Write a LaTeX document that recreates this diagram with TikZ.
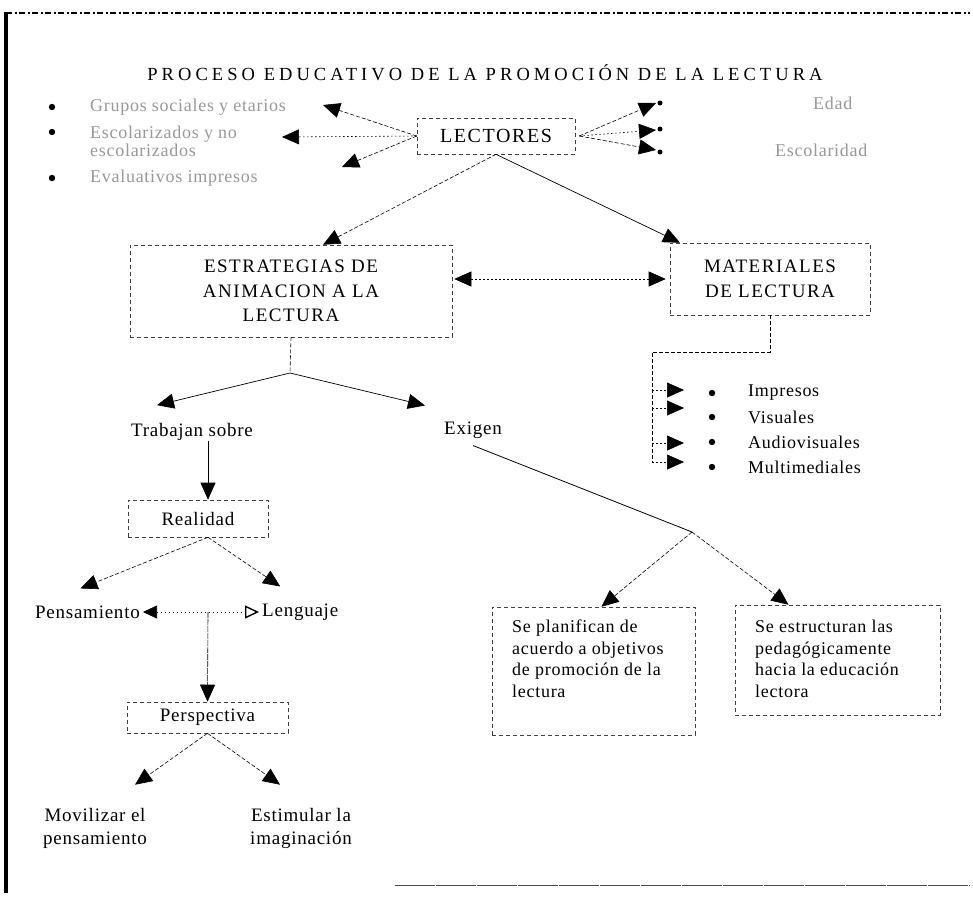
\documentclass[tikz,border=0pt]{standalone}
\usepackage{fontspec}
\setmainfont{Liberation Serif}
\newfontfamily\titlefont[LetterSpace=22]{Liberation Serif}
\newfontfamily\capfont[LetterSpace=8]{Liberation Serif}
\newfontfamily\bodyfont[LetterSpace=4]{Liberation Serif}
\usetikzlibrary{arrows.meta}
\begin{document}
\begin{tikzpicture}[x=1pt,y=-1pt,
  >={Triangle[length=17pt,width=15pt]},
  lbl/.style={inner sep=0pt, font=\bodyfont\fontsize{19}{23}\selectfont, align=center},
  faint/.style={inner sep=0pt, font=\bodyfont\fontsize{18}{18}\selectfont, text=black!40, align=left, anchor=west},
  item/.style={inner sep=0pt, font=\bodyfont\fontsize{18}{18}\selectfont, anchor=west},
  btxt/.style={inner sep=0pt, font=\bodyfont\fontsize{18}{21.5}\selectfont, align=left, anchor=north west},
  dbox/.style={draw=black!75, dash pattern=on 4pt off 3pt, line width=0.6pt},
  capbox/.style={dbox, inner sep=0pt, font=\capfont\fontsize{19}{24.5}\selectfont, align=center},
  smallbox/.style={dbox, inner sep=0pt, font=\bodyfont\fontsize{19}{23}\selectfont},
  tip/.style={-{Triangle[length=17pt,width=15pt]}},
  con/.style={tip, line width=0.6pt, dash pattern=on 4pt off 2pt},
  sol/.style={tip, line width=0.7pt},
  dashline/.style={line width=0.6pt, dash pattern=on 4pt off 2pt},
  dotline/.style={line width=0.6pt, dash pattern=on 1.5pt off 2.5pt}
]
\useasboundingbox (0,0) rectangle (973,900);
\fill[white] (0,0) rectangle (973,900);
% page border
\draw[line width=3.5pt] (6,12) -- (6,893);
\draw[line width=1.2pt, dash pattern=on 6pt off 3pt on 2pt off 2pt] (6,13) -- (970,13);
\draw[line width=0.9pt, black!70, dash pattern=on 40pt off 1pt] (395,885) -- (970,885);

% title
\node[inner sep=0pt, font=\titlefont\fontsize{18.5}{20}\selectfont] (title) at (485,73) {PROCESO EDUCATIVO DE LA PROMOCIÓN DE LA LECTURA};

% LECTORES
\node[capbox, font=\capfont\fontsize{20}{24}\selectfont, minimum width=158pt, minimum height=36pt] (lectores) at (496,136) {LECTORES};

% left bullets
\fill (52,107) circle (3.2);
\fill (52,132) circle (3.2);
\fill (52,178) circle (3.2);
\node[faint] (g1) at (90,107) {Grupos sociales y etarios};
\node[faint] (g2) at (90,141) {Escolarizados y no\\escolarizados};
\node[faint] (g3) at (90,178) {Evaluativos impresos};
\coordinate (t1) at (323,105);
\coordinate (t2) at (282,137);
\coordinate (t3) at (342,167);
\draw[con] (lectores.west) -- (t1);
\draw[dotline, tip] (lectores.west) -- (t2);
\draw[con] (lectores.west) -- (t3);

% right items
\coordinate (r1) at (656,103);
\coordinate (r2) at (656,130);
\coordinate (r3) at (656,150);
\draw[con] ([xshift=4pt]lectores.east) -- (r1);
\draw[dotline, tip] ([xshift=4pt]lectores.east) -- (r2);
\draw[con] ([xshift=4pt]lectores.east) -- (r3);
\fill (660,103) circle (2.5);
\fill (660,129) circle (2.5);
\fill (660,152) circle (2.5);
\node[faint] (e1) at (813,103) {Edad};
\node[faint] (e3) at (775,150) {Escolaridad};

% strategies and materials
\node[capbox, minimum width=322pt, minimum height=92pt] (estr) at (291,291) {ESTRATEGIAS DE\\ANIMACION A LA\\LECTURA};
\node[capbox, minimum width=200pt, minimum height=72pt] (mat) at (770,279) {MATERIALES\\DE LECTURA};
\draw[con] (lectores.south) -- ([xshift=32pt]estr.north);
\draw[sol] (lectores.south) -- ([xshift=-90pt]mat.north);
\draw[dotline, <->] ([xshift=2pt]estr.east |- mat.west) -- ([xshift=-4pt]mat.west);

% materials list
\coordinate (m1) at (770,352);
\coordinate (m2) at (652,352);
\coordinate (m3) at (652,462);
\draw[dashline] (mat.south) -- (m1) -- (m2) -- (m3);
\node[item] (imp) at (748,393) {Impresos};
\node[item] (vis) at (748,417) {Visuales};
\node[item] (aud) at (748,442) {Audiovisuales};
\node[item] (mul) at (748,467) {Multimediales};
\foreach \y in {393,417,442,467} \fill (712,\y) circle (3.2);
\coordinate (k1) at (652,390);
\coordinate (k2) at (652,408);
\coordinate (k3) at (652,443);
\coordinate (k4) at (652,462);
\draw[dotline, tip] (k1) -- ([xshift=-64pt,yshift=3pt]imp.west);
\draw[dotline, tip] (k2) -- ([xshift=-64pt,yshift=9pt]vis.west);
\draw[dotline, tip] (k3) -- ([xshift=-64pt,yshift=-1pt]aud.west);
\draw[dotline, tip] (k4) -- ([xshift=-64pt,yshift=5pt]mul.west);

% split below strategies
\coordinate (a1) at (290,373);
\node[lbl] (trab) at (192,432) {Trabajan sobre};
\node[lbl] (exig) at (473,430) {Exigen};
\draw[dashline] (estr.south) -- (a1);
\draw[sol] (a1) -- ([xshift=-35pt,yshift=18pt]trab.north);
\draw[sol] (a1) -- ([xshift=-48pt,yshift=16pt]exig.north);

% Realidad branch
\node[smallbox, minimum width=140pt, minimum height=37pt] (real) at (198,518.5) {Realidad};
\draw[sol, line width=0.6pt] ([xshift=16pt]trab.south) -- ([xshift=10pt]real.north);
\node[lbl, anchor=east] (pens) at (140,612) {Pensamiento};
\node[lbl, anchor=west] (leng) at (262,612) {Lenguaje};
\draw[con] ([xshift=10pt]real.south) -- ([xshift=-7pt,yshift=17pt]pens.north);
\draw[con] ([xshift=10pt]real.south) -- ([xshift=-20pt,yshift=17pt]leng.north);
\draw[dotline, {Triangle[length=14pt,width=13pt]}-{Triangle[length=14pt,width=13pt,open,line width=1.4pt]}] ([xshift=3pt]pens.east) -- ([xshift=-3pt]leng.west);
\coordinate (mid) at (208,612);
\node[smallbox, minimum width=161pt, minimum height=31pt] (persp) at (207.5,717.5) {Perspectiva};
\draw[con, dash pattern=on 6pt off 1pt] (mid) -- (persp.north);
\node[lbl] (movil) at (95,828) {Movilizar el\\pensamiento};
\node[lbl] (estim) at (301,828) {Estimular la\\imaginación};
\draw[con] (persp.south) -- ([xshift=40pt,yshift=23pt]movil.north);
\draw[con] (persp.south) -- ([xshift=-21pt,yshift=23pt]estim.north);

% Exigen branch
\coordinate (a2) at (692,532);
\draw[line width=0.8pt] ([yshift=-7pt]exig.south) -- (a2);
\node[dbox, minimum width=203pt, minimum height=128pt] (box1) at (593.5,671) {};
\node[dbox, minimum width=205pt, minimum height=110pt] (box2) at (837.5,660) {};
\node[btxt] (box1t) at (512,620) {Se planifican de\\acuerdo a objetivos\\de promoción de la\\lectura};
\node[btxt] (box2t) at (755,620) {Se estructuran las\\pedagógicamente\\hacia la educación\\lectora};
\draw[con] (a2) -- ([xshift=8pt]box1.north);
\draw[con] (a2) -- ([xshift=-49pt]box2.north);
\end{tikzpicture}
\end{document}
